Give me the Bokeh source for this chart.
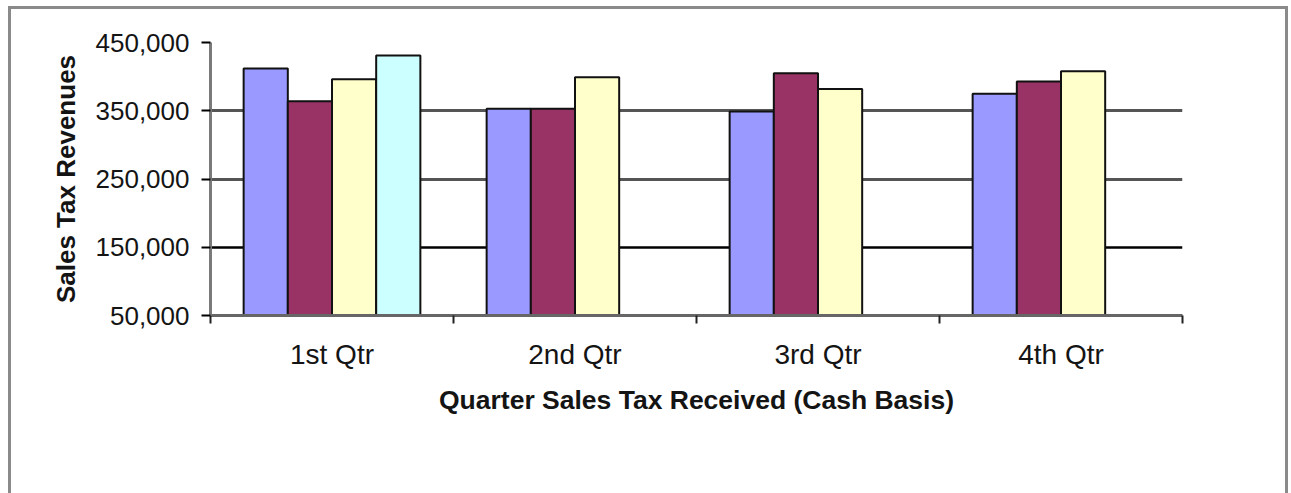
import math
from bokeh.plotting import figure
from bokeh.models import (ColumnDataSource, Range1d, FixedTicker,
                          NumeralTickFormatter, Legend, LegendItem, Grid, CustomJSTickFormatter)
from bokeh.transform import dodge
from bokeh.embed import file_html
from bokeh.resources import INLINE

# ---- data ----
quarters = ["1st Qtr", "2nd Qtr", "3rd Qtr", "4th Qtr"]
years = ["2002", "2003", "2004", "2005"]
v2002 = [412000, 353000, 349000, 375000]
v2003 = [364000, 353000, 405000, 393000]
v2004 = [396000, 399000, 382000, 408000]
v2005 = [431000, math.nan, math.nan, math.nan]
y_ticks = [50000, 150000, 250000, 350000, 450000]
colors = ["#9999FF", "#993366", "#FFFFCC", "#CCFFFF"]

FONT = "Liberation Sans"
TXT = "#141414"

# category slot centres (slot i spans [i, i+1])
centers = [i + 0.5 for i in range(len(quarters))]
edges = [float(i) for i in range(len(quarters) + 1)]

src = ColumnDataSource(dict(quarter=quarters, xc=centers,
                            y2002=v2002, y2003=v2003, y2004=v2004, y2005=v2005))

p = figure(x_range=Range1d(0, len(quarters)),
           y_range=Range1d(y_ticks[0], y_ticks[-1]),
           frame_width=972, frame_height=273,
           output_backend="svg", toolbar_location=None,
           x_axis_location="below",
           min_border_left=199, min_border_right=103, min_border_top=33, min_border_bottom=0)
p.outline_line_color = None
p.background_fill_color = "white"
p.border_fill_color = "white"
p.styles = {"margin-left": "8px", "margin-top": "6px",
            "border-top": "3px solid #8a8a8a", "border-left": "3px solid #8a8a8a",
            "border-right": "3px solid #8a8a8a"}

# grid lines
p.ygrid.visible = False
p.xgrid.visible = False
p.add_layout(Grid(dimension=1, ticker=FixedTicker(ticks=y_ticks[1::3]),
                  grid_line_color="#000000", grid_line_width=2.5))
p.add_layout(Grid(dimension=1, ticker=FixedTicker(ticks=y_ticks[2:4]),
                  grid_line_color="#555555", grid_line_width=3))

# bars
n = len(years)
gap = 1.5
bw = 1.0 / (n + gap)
renderers = []
for i, (yr, col) in enumerate(zip(years, colors)):
    off = (i - (n - 1) / 2) * bw
    r = p.vbar(x=dodge("xc", off), top="y" + yr, bottom=y_ticks[0],
               width=bw, source=src, fill_color=col, line_color="#111111", line_width=2)
    renderers.append(r)

# y axis
ya = p.yaxis[0]
ya.ticker = FixedTicker(ticks=y_ticks)
ya.formatter = NumeralTickFormatter(format="0,0")
ya.axis_line_color = "#7a7a7a"
ya.axis_line_width = 3
ya.major_tick_line_color = "#000000"
ya.major_tick_line_width = 2
ya.major_tick_out = 9
ya.major_tick_in = 0
ya.minor_tick_line_color = None
ya.major_label_text_font = FONT
ya.major_label_text_font_size = "26px"
ya.major_label_text_color = TXT
ya.major_label_standoff = 12
ya.axis_label = "Sales Tax Revenues"
ya.axis_label_text_font = FONT
ya.axis_label_text_font_style = "bold"
ya.axis_label_text_font_size = "26px"
ya.axis_label_text_color = TXT
ya.axis_label_standoff = 12

# x axis: ticks at category edges, labels at category centres
xa = p.xaxis[0]
xa.ticker = FixedTicker(ticks=centers, minor_ticks=edges)
xa.formatter = CustomJSTickFormatter(args=dict(names=quarters),
                                     code="return names[Math.floor(tick)] || ''")
xa.axis_line_color = "#666666"
xa.axis_line_width = 3
xa.major_tick_line_color = None
xa.major_tick_out = 0
xa.major_tick_in = 0
xa.minor_tick_line_color = "#222222"
xa.minor_tick_line_width = 2
xa.minor_tick_out = 8
xa.minor_tick_in = 0
xa.major_label_text_font = FONT
xa.major_label_text_font_size = "28px"
xa.major_label_text_color = TXT
xa.major_label_standoff = 15
xa.axis_label = "Quarter Sales Tax Received (Cash Basis)"
xa.axis_label_text_font = FONT
xa.axis_label_text_font_style = "bold"
xa.axis_label_text_font_size = "26.5px"
xa.axis_label_text_color = TXT
xa.axis_label_standoff = 12

legend = Legend(items=[LegendItem(label=yr, renderers=[r]) for yr, r in zip(years, renderers)],
                orientation="horizontal", location=(235, 2), margin=16, padding=9,
                spacing=50, glyph_width=13, glyph_height=13, label_standoff=6,
                label_text_font=FONT, label_text_font_size="21px", label_text_color=TXT,
                border_line_color="#000000", border_line_width=2,
                background_fill_color="white", background_fill_alpha=1.0)
p.add_layout(legend, "below")

open("out.html", "w").write(file_html(p, INLINE))
